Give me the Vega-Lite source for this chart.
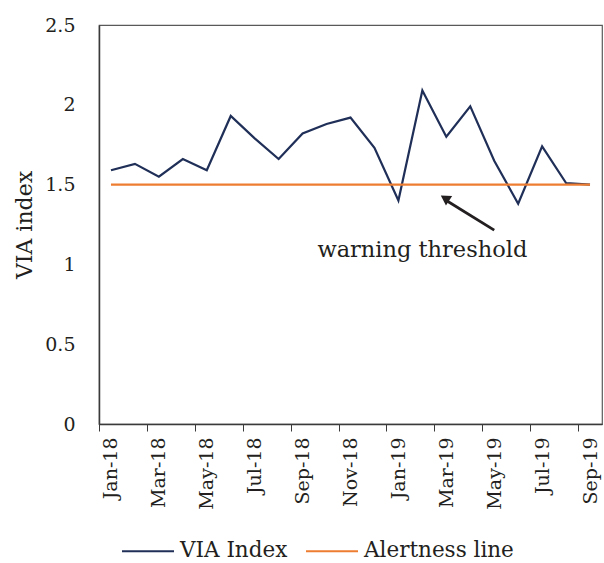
{
  "$schema": "https://vega.github.io/schema/vega-lite/v6.json",
  "width": 503,
  "height": 399,
  "autosize": "none",
  "padding": {"left": 99, "top": 25, "right": 2, "bottom": 139},
  "background": "white",
  "config": {
    "view": {"stroke": "#595959", "strokeWidth": 1.2},
    "font": "DejaVu Serif",
    "axis": {"labelFont": "DejaVu Serif", "titleFont": "DejaVu Serif", "labelColor": "#231f20", "titleColor": "#231f20", "domainColor": "#3a3a3a", "tickColor": "#3a3a3a", "grid": false},
    "legend": {"labelFont": "DejaVu Serif", "labelColor": "#231f20"}
  },
  "datasets": {
    "series": [
      {"month": "Jan-18", "series": "VIA Index", "value": 1.59},
      {"month": "Feb-18", "series": "VIA Index", "value": 1.63},
      {"month": "Mar-18", "series": "VIA Index", "value": 1.55},
      {"month": "Apr-18", "series": "VIA Index", "value": 1.66},
      {"month": "May-18", "series": "VIA Index", "value": 1.59},
      {"month": "Jun-18", "series": "VIA Index", "value": 1.93},
      {"month": "Jul-18", "series": "VIA Index", "value": 1.79},
      {"month": "Aug-18", "series": "VIA Index", "value": 1.66},
      {"month": "Sep-18", "series": "VIA Index", "value": 1.82},
      {"month": "Oct-18", "series": "VIA Index", "value": 1.88},
      {"month": "Nov-18", "series": "VIA Index", "value": 1.92},
      {"month": "Dec-18", "series": "VIA Index", "value": 1.73},
      {"month": "Jan-19", "series": "VIA Index", "value": 1.40},
      {"month": "Feb-19", "series": "VIA Index", "value": 2.09},
      {"month": "Mar-19", "series": "VIA Index", "value": 1.80},
      {"month": "Apr-19", "series": "VIA Index", "value": 1.99},
      {"month": "May-19", "series": "VIA Index", "value": 1.65},
      {"month": "Jun-19", "series": "VIA Index", "value": 1.38},
      {"month": "Jul-19", "series": "VIA Index", "value": 1.74},
      {"month": "Aug-19", "series": "VIA Index", "value": 1.51},
      {"month": "Sep-19", "series": "VIA Index", "value": 1.50},
      {"month": "Jan-18", "series": "Alertness line", "value": 1.5},
      {"month": "Feb-18", "series": "Alertness line", "value": 1.5},
      {"month": "Mar-18", "series": "Alertness line", "value": 1.5},
      {"month": "Apr-18", "series": "Alertness line", "value": 1.5},
      {"month": "May-18", "series": "Alertness line", "value": 1.5},
      {"month": "Jun-18", "series": "Alertness line", "value": 1.5},
      {"month": "Jul-18", "series": "Alertness line", "value": 1.5},
      {"month": "Aug-18", "series": "Alertness line", "value": 1.5},
      {"month": "Sep-18", "series": "Alertness line", "value": 1.5},
      {"month": "Oct-18", "series": "Alertness line", "value": 1.5},
      {"month": "Nov-18", "series": "Alertness line", "value": 1.5},
      {"month": "Dec-18", "series": "Alertness line", "value": 1.5},
      {"month": "Jan-19", "series": "Alertness line", "value": 1.5},
      {"month": "Feb-19", "series": "Alertness line", "value": 1.5},
      {"month": "Mar-19", "series": "Alertness line", "value": 1.5},
      {"month": "Apr-19", "series": "Alertness line", "value": 1.5},
      {"month": "May-19", "series": "Alertness line", "value": 1.5},
      {"month": "Jun-19", "series": "Alertness line", "value": 1.5},
      {"month": "Jul-19", "series": "Alertness line", "value": 1.5},
      {"month": "Aug-19", "series": "Alertness line", "value": 1.5},
      {"month": "Sep-19", "series": "Alertness line", "value": 1.5}
    ],
    "arrow": [
      {"month": "May-19", "value": 1.215},
      {"month": "Mar-19", "value": 1.40}
    ],
    "head": [
      {"month": "Mar-19", "value": 1.41}
    ],
    "label": [
      {"month": "Feb-19", "value": 1.09, "text": "warning threshold"}
    ]
  },
  "layer": [
    {
      "data": {"name": "series"},
      "mark": {"type": "line", "strokeWidth": 2.2},
      "encoding": {
        "x": {
          "field": "month", "type": "ordinal", "sort": null, "bandPosition": 0.5,
          "scale": {"type": "band", "paddingInner": 0, "paddingOuter": 0},
          "axis": {
            "title": null,
            "values": ["Jan-18", "Mar-18", "May-18", "Jul-18", "Sep-18", "Nov-18", "Jan-19", "Mar-19", "May-19", "Jul-19", "Sep-19"],
            "tickOffset": -11.976,
            "labelOffset": 11.976,
            "labelAngle": -90,
            "labelFontSize": 19,
            "labelPadding": 6,
            "tickSize": 7,
            "domainWidth": 1.5
          }
        },
        "y": {
          "field": "value", "type": "quantitative",
          "scale": {"domain": [0, 2.5], "nice": false},
          "axis": {
            "title": "VIA index",
            "values": [0, 0.5, 1, 1.5, 2, 2.5],
            "labelExpr": "datum.value",
            "ticks": false,
            "labelFontSize": 19,
            "labelPadding": 24,
            "titleFontSize": 22,
            "titleFontWeight": "normal",
            "titlePadding": 8,
            "domainWidth": 1.5
          }
        },
        "color": {
          "field": "series", "type": "nominal",
          "scale": {"domain": ["VIA Index", "Alertness line"], "range": ["#1f2f57", "#ed7d31"]},
          "legend": {
            "title": null,
            "orient": "none",
            "legendX": 22,
            "legendY": 499,
            "direction": "horizontal",
            "symbolType": "stroke",
            "symbolSize": 2704,
            "symbolStrokeWidth": 2,
            "labelFontSize": 21.5,
            "labelOffset": 5,
            "columnPadding": 14
          }
        }
      }
    },
    {
      "data": {"name": "arrow"},
      "mark": {"type": "line", "color": "#231f20", "strokeWidth": 2.8},
      "encoding": {
        "x": {"field": "month", "type": "ordinal", "sort": null, "bandPosition": 0.5},
        "y": {"field": "value", "type": "quantitative"}
      }
    },
    {
      "data": {"name": "head"},
      "mark": {"type": "point", "shape": "triangle", "filled": true, "color": "#231f20", "size": 130, "angle": 303, "opacity": 1},
      "encoding": {
        "x": {"field": "month", "type": "ordinal", "sort": null, "bandPosition": 0.5},
        "y": {"field": "value", "type": "quantitative"}
      }
    },
    {
      "data": {"name": "label"},
      "mark": {"type": "text", "fontSize": 22.5, "color": "#231f20", "font": "DejaVu Serif"},
      "encoding": {
        "x": {"field": "month", "type": "ordinal", "sort": null, "bandPosition": 0.5},
        "y": {"field": "value", "type": "quantitative"},
        "text": {"field": "text"}
      }
    }
  ]
}
